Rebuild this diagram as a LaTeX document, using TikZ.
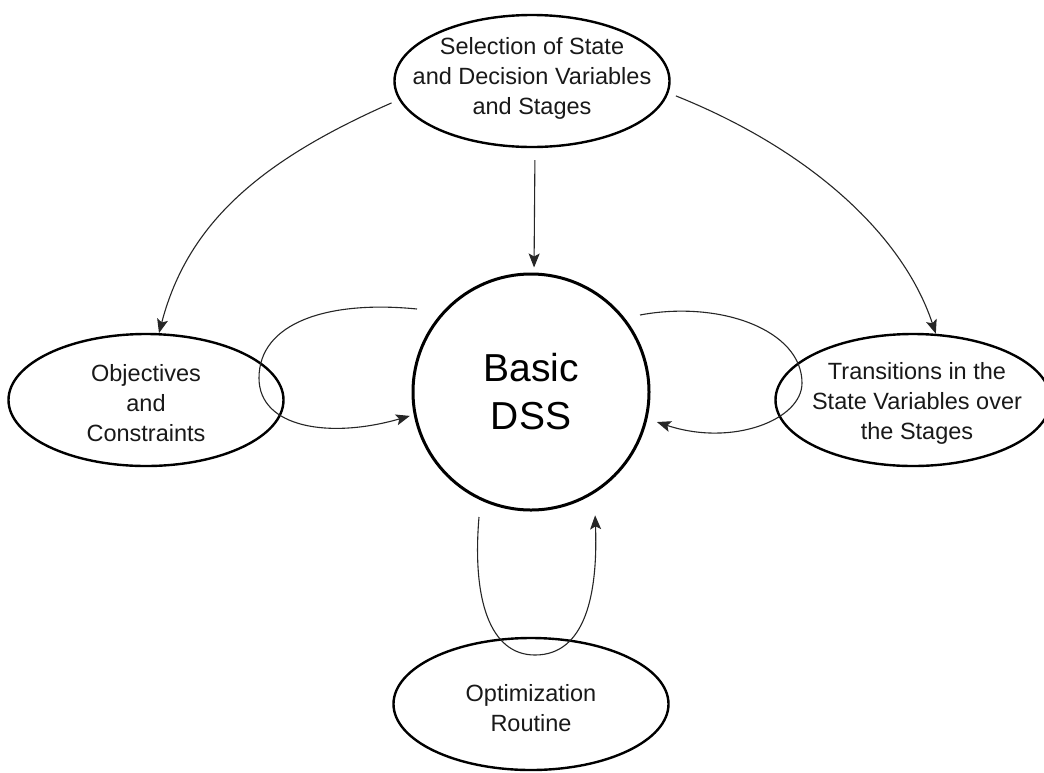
\documentclass[tikz,border=0pt]{standalone}
\usepackage{fontspec}
\setmainfont{Liberation Sans}
\usetikzlibrary{shapes.geometric,arrows.meta}
\tikzset{
  ell/.style={ellipse, draw=black, line width=2.4pt, fill=white,
    minimum width=275pt, minimum height=132pt, inner sep=0pt},
  txt/.style={align=center, font=\fontsize{23.5}{30}\selectfont, text=black!90, inner sep=0pt},
  hub/.style={circle, draw=black, line width=3pt, fill=white, minimum size=236pt,
    inner sep=0pt, align=center, font=\fontsize{39}{48}\selectfont},
  conn/.style={draw=black!85, line width=1.1pt,
    -{Stealth[length=14pt,width=11pt,inset=3pt]}},
}
\begin{document}
\begin{tikzpicture}[x=1pt,y=-1pt]
\useasboundingbox (0,0) rectangle (1044,772);
\fill[white] (0,0) rectangle (1044,772);

\node[ell, label={[txt, yshift=3pt]center:{Selection of State\\and Decision Variables\\and Stages}}] (top) at (532,81) {};
\node[ell, label={[txt, yshift=-3pt]center:{Objectives\\and\\Constraints}}] (left) at (146,400) {};
\node[ell, label={[txt, xshift=4pt, yshift=-3pt]center:{Transitions in the\\State Variables over\\the Stages}}] (right) at (913,400) {};
\node[ell, label={[txt, yshift=-4pt]center:{Optimization\\Routine}}] (bottom) at (531,704) {};
\node[hub] (dss) at (531,392) {Basic\\DSS};

\coordinate (l0) at (417,309);
\coordinate (r0) at (640,315);
\coordinate (b0) at (479,517);

% from the top ellipse
\draw[conn, shorten <=8pt] (top.188) .. controls (262,160) and (188,222) .. (left.79);
\draw[conn, shorten <=8pt] (top.-5) .. controls (806,148) and (902,232) .. (right.71);
\draw[conn, shorten <=12pt, shorten >=5pt] ([xshift=3pt]top.south) -- ([xshift=3pt]dss.north);

% loops into the hub
\draw[conn, shorten >=4pt] (l0) .. controls (327,300) and (259,323) .. (259,378)
  .. controls (259,428) and (330,439) .. (dss.191);
\draw[conn, shorten >=10pt] (r0) .. controls (720,300) and (802,330) .. (802,383)
  .. controls (802,420) and (732,447) .. (dss.-13);
\draw[conn, shorten >=22pt] (b0) .. controls (472,600) and (490,655) .. (535,655)
  .. controls (585,655) and (598,595) .. (dss.-58);
\end{tikzpicture}
\end{document}
